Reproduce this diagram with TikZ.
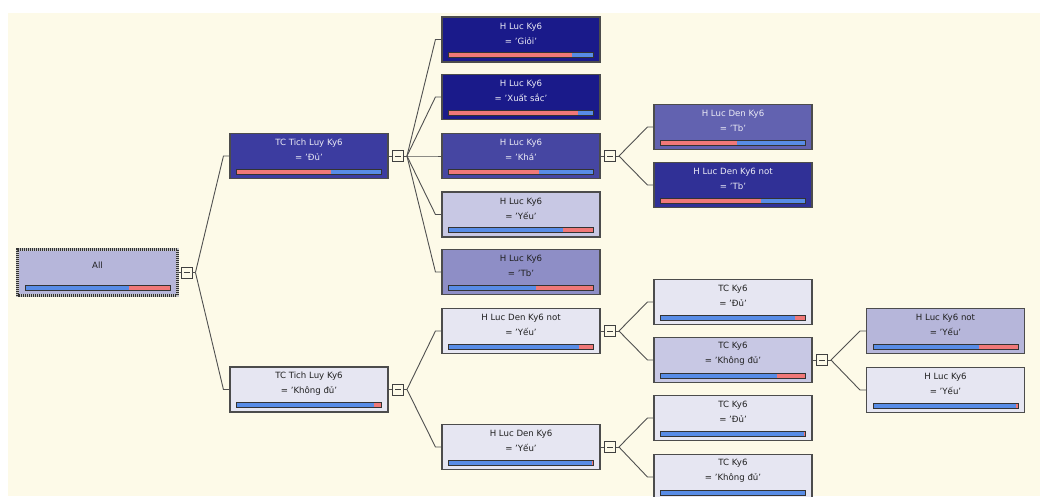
\documentclass[tikz,border=0pt]{standalone}
\usepackage{fontspec}
\setmainfont{DejaVu Sans}
\usetikzlibrary{calc}

\definecolor{cream}{RGB}{253,250,232}
\definecolor{navyA}{RGB}{26,26,138}
\definecolor{navyB}{RGB}{48,48,150}
\definecolor{navyC}{RGB}{60,60,160}
\definecolor{navyD}{RGB}{70,70,162}
\definecolor{midblue}{RGB}{98,98,176}
\definecolor{lavT}{RGB}{142,142,198}
\definecolor{lav}{RGB}{182,182,218}
\definecolor{lavB}{RGB}{200,200,228}
\definecolor{pale}{RGB}{230,230,242}
\definecolor{barred}{RGB}{240,120,120}
\definecolor{barblue}{RGB}{88,140,230}
\definecolor{wirecol}{RGB}{80,80,80}
\definecolor{lighttext}{RGB}{236,236,246}
\definecolor{darktext}{RGB}{32,32,32}

% box with its two text lines
\newcommand{\tnode}[6]{%
  \node[tbox, fill=#3] (#1) at (#2) {};
  \node[tlab, text=#4] (#1-t) at ([yshift=-17pt]#1.north) {#5\\#6};
}
% split bar: node, first colour, second colour, share of first
\newcommand{\splitbar}[4]{%
  \coordinate (bl) at ([shift={(7pt,5pt)}]#1.south west);
  \coordinate (tr) at ([shift={(-7pt,10pt)}]#1.south east);
  \coordinate (sp) at ($(bl)!#4!(tr)$);
  \fill[#2] (bl) rectangle (sp |- tr);
  \fill[#3] (sp |- bl) rectangle (tr);
  \draw[barline] (bl) rectangle (tr);
}
% collapse box and the fan to the children
\newcommand{\fan}[3]{%
  \draw[wire] (#2.east) -- (#1.west);
  \draw[wire] (#1.east) -- ++(3,0) coordinate (#1-f);
  \foreach \c in {#3} \draw[wire] (#1-f) -- ([xshift=-6pt]\c.west) -- (\c.west);
}

\begin{document}
\begin{tikzpicture}[x=1pt,y=-1pt,
  tbox/.style={draw=black!70, line width=1.1pt, minimum width=158pt, minimum height=45pt, inner sep=0pt},
  tlab/.style={align=center, inner sep=0pt, font=\fontsize{8.6}{15}\selectfont},
  minus/.style={draw=black!75, fill=cream, line width=0.9pt, minimum size=11pt, inner sep=0pt,
    path picture={\draw[line width=0.9pt] ([xshift=2.5pt]path picture bounding box.west) -- ([xshift=-2.5pt]path picture bounding box.east);}},
  wire/.style={draw=wirecol, line width=0.9pt},
  barline/.style={draw=black!80, line width=0.9pt}]
  \useasboundingbox (0,0) rectangle (1040,496);
  \clip (0,0) rectangle (1040,496);
  \fill[white] (0,0) rectangle (1040,496);
  \fill[cream] (8,13) rectangle (1040,496);

  % root
  \node[tbox, fill=lav, draw=none] (all) at (97.5,272.5) {};
  \draw[line width=3pt, gray!45] (all.south west) rectangle (all.north east);
  \draw[line width=3pt, black!80, dash pattern=on 1pt off 1pt] (all.south west) rectangle (all.north east);
  \node[tlab, text=darktext] (all-t) at ([yshift=-16pt]all.north) {All};

  % level 1
  \tnode{du}{309,156}{navyC}{lighttext}{TC Tich Luy Ky6}{= 'Đủ'}
  \tnode{khongdu}{309,389.5}{pale}{darktext}{TC Tich Luy Ky6}{= 'Không đủ'}

  % level 2
  \tnode{gioi}{521,39.5}{navyA}{lighttext}{H Luc Ky6}{= 'Giỏi'}
  \tnode{xuatsac}{521,97}{navyA}{lighttext}{H Luc Ky6}{= 'Xuất sắc'}
  \tnode{kha}{521,156}{navyD}{lighttext}{H Luc Ky6}{= 'Khá'}
  \tnode{yeu}{521,214.5}{lavB}{darktext}{H Luc Ky6}{= 'Yếu'}
  \tnode{tb}{521,272}{lavT}{darktext}{H Luc Ky6}{= 'Tb'}
  \tnode{dennotyeu}{521,331}{pale}{darktext}{H Luc Den Ky6 not}{= 'Yếu'}
  \tnode{denyeu}{521,447}{pale}{darktext}{H Luc Den Ky6}{= 'Yếu'}

  % level 3
  \tnode{dentb}{733,127}{midblue}{lighttext}{H Luc Den Ky6}{= 'Tb'}
  \tnode{dennottb}{733,185}{navyB}{lighttext}{H Luc Den Ky6 not}{= 'Tb'}
  \tnode{tcdu}{733,302}{pale}{darktext}{TC Ky6}{= 'Đủ'}
  \tnode{tckhongdu}{733,360}{lavB}{darktext}{TC Ky6}{= 'Không đủ'}
  \tnode{tcdu2}{733,418}{pale}{darktext}{TC Ky6}{= 'Đủ'}
  \tnode{tckhongdu2}{733,477}{pale}{darktext}{TC Ky6}{= 'Không đủ'}

  % level 4
  \tnode{hlnotyeu}{945.5,331}{lav}{darktext}{H Luc Ky6 not}{= 'Yếu'}
  \tnode{hlyeu}{945.5,390}{pale}{darktext}{H Luc Ky6}{= 'Yếu'}

  % bars
  \splitbar{all}{barblue}{barred}{0.72}
  \splitbar{du}{barred}{barblue}{0.654}
  \splitbar{khongdu}{barblue}{barred}{0.947}
  \splitbar{gioi}{barred}{barblue}{0.853}
  \splitbar{xuatsac}{barred}{barblue}{0.896}
  \splitbar{kha}{barred}{barblue}{0.624}
  \splitbar{yeu}{barblue}{barred}{0.79}
  \splitbar{tb}{barblue}{barred}{0.60}
  \splitbar{dennotyeu}{barblue}{barred}{0.90}
  \splitbar{denyeu}{barblue}{barred}{0.99}
  \splitbar{dentb}{barred}{barblue}{0.527}
  \splitbar{dennottb}{barred}{barblue}{0.69}
  \splitbar{tcdu}{barblue}{barred}{0.93}
  \splitbar{tckhongdu}{barblue}{barred}{0.80}
  \splitbar{tcdu2}{barblue}{barred}{0.986}
  \splitbar{tckhongdu2}{barblue}{barred}{1.0}
  \splitbar{hlnotyeu}{barblue}{barred}{0.734}
  \splitbar{hlyeu}{barblue}{barred}{0.984}

  % collapse boxes
  \node[minus] (m0) at (186.5,272.5) {};
  \node[minus] (m1a) at (398,156) {};
  \node[minus] (m1b) at (398,389.5) {};
  \node[minus] (m2a) at (610,156) {};
  \node[minus] (m2b) at (610,331) {};
  \node[minus] (m2c) at (610,447) {};
  \node[minus] (m3) at (822,360) {};

  % connectors
  \fan{m0}{all}{du,khongdu}
  \fan{m1a}{du}{gioi,xuatsac,kha,yeu,tb}
  \fan{m1b}{khongdu}{dennotyeu,denyeu}
  \fan{m2a}{kha}{dentb,dennottb}
  \fan{m2b}{dennotyeu}{tcdu,tckhongdu}
  \fan{m2c}{denyeu}{tcdu2,tckhongdu2}
  \fan{m3}{tckhongdu}{hlnotyeu,hlyeu}
\end{tikzpicture}
\end{document}
